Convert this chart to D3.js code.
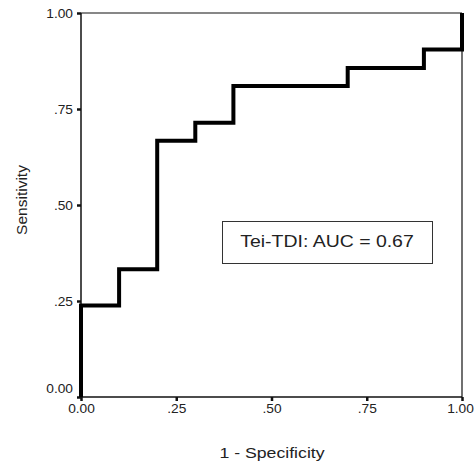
<!DOCTYPE html>
<html>
<head>
<meta charset="utf-8">
<script src="https://cdn.jsdelivr.net/npm/d3@7"></script>
<style>
  body { margin: 0; background: #fff; }
  text { font-family: "Liberation Sans", Arial, sans-serif; fill: #222; }
</style>
</head>
<body>
<div id="roc"></div>
<script>
// ROC curve data (1 - specificity, sensitivity)
var fpr = [0, 0, 0.1, 0.2, 0.3, 0.4, 0.7, 0.9, 1.0];
var tpr = [0, 0.238, 0.333, 0.667, 0.714, 0.810, 0.857, 0.905, 1.0];
var ticks = [0, 0.25, 0.5, 0.75, 1.0];
var tickLabels = ["0.00", ".25", ".50", ".75", "1.00"];
var legendText = "Tei-TDI: AUC = 0.67";

var width = 474, height = 464;
var margin = {top: 13, right: 12, bottom: 67, left: 81};
var stretch = 1.18; // reference text is slightly wide
var tickStretch = 1.1;

var svg = d3.select('#roc')
  .append('svg')
    .attr('width', width)
    .attr('height', height);

var x = d3.scaleLinear()
  .domain([0, 1])
  .range([margin.left, width - margin.right]);
var y = d3.scaleLinear()
  .domain([0, 1])
  .range([height - margin.bottom, margin.top]);

// frame top + right
svg.append("line")
  .attr("x1", x(0)).attr("x2", x(1))
  .attr("y1", y(1)).attr("y2", y(1))
  .attr("stroke", "#111").attr("stroke-width", 1.2);
svg.append("line")
  .attr("x1", x(1)).attr("x2", x(1))
  .attr("y1", y(0)).attr("y2", y(1))
  .attr("stroke", "#111").attr("stroke-width", 1.2);

// axes
var xAxis = svg.append("g")
  .attr("transform", `translate(0,${y(0)})`)
  .call(d3.axisBottom(x).tickValues(ticks).tickSize(4).tickFormat((d, i) => tickLabels[i]));
var yAxis = svg.append("g")
  .attr("transform", `translate(${x(0)},0)`)
  .call(d3.axisLeft(y).tickValues(ticks).tickSize(4).tickFormat((d, i) => tickLabels[i]));

svg.selectAll(".domain").attr("stroke", "#111").attr("stroke-width", 1.5);
svg.selectAll(".tick line").attr("stroke", "#111").attr("stroke-width", 2.5);
svg.selectAll(".tick text")
  .style("font-size", "12.5px")
  .style("font-family", "Liberation Sans, Arial, sans-serif")
  .attr("fill", "#222");

xAxis.selectAll(".tick text")
  .attr("y", 0).attr("dy", 0)
  .attr("transform", (d) => "translate(" + (d === 1 ? -2 : 0) + ",16) scale(" + tickStretch + ",1)");
yAxis.selectAll(".tick text")
  .attr("x", 0).attr("dy", "0.36em")
  .attr("transform", (d) => "translate(-8," + (d === 0 ? -9 : 0) + ") scale(" + tickStretch + ",1)");
xAxis.select(".domain").attr("d", `M${x(0)},0H${x(1)}`);
yAxis.select(".domain").attr("d", `M0,${y(0)}V${y(1)}`);

// ROC step line
var pts = fpr.map((d, i) => [d, tpr[i]]);
var line = d3.line()
  .x(d => x(d[0]))
  .y(d => y(d[1]))
  .curve(d3.curveStepAfter);
svg.append("path")
  .datum(pts)
  .attr("fill", "none")
  .attr("stroke", "#000")
  .attr("stroke-width", 4)
  .attr("stroke-linejoin", "miter")
  .attr("d", line);

// axis titles
svg.append("text")
  .attr("transform", "translate(272,458) scale(" + stretch + ",1)")
  .attr("text-anchor", "middle")
  .style("font-size", "15px")
  .text("1 - Specificity");
svg.append("text")
  .attr("transform", "translate(27,200) rotate(-90)")
  .attr("text-anchor", "middle")
  .style("font-size", "15.5px")
  .text("Sensitivity");

// legend box
svg.append("rect")
  .attr("x", 222.5).attr("y", 221.5)
  .attr("width", 210).attr("height", 42)
  .attr("fill", "#fff")
  .attr("stroke", "#333").attr("stroke-width", 1);
svg.append("text")
  .attr("transform", "translate(327,247) scale(" + stretch + ",1)")
  .attr("text-anchor", "middle")
  .style("font-size", "16.5px")
  .text(legendText);
</script>
</body>
</html>
